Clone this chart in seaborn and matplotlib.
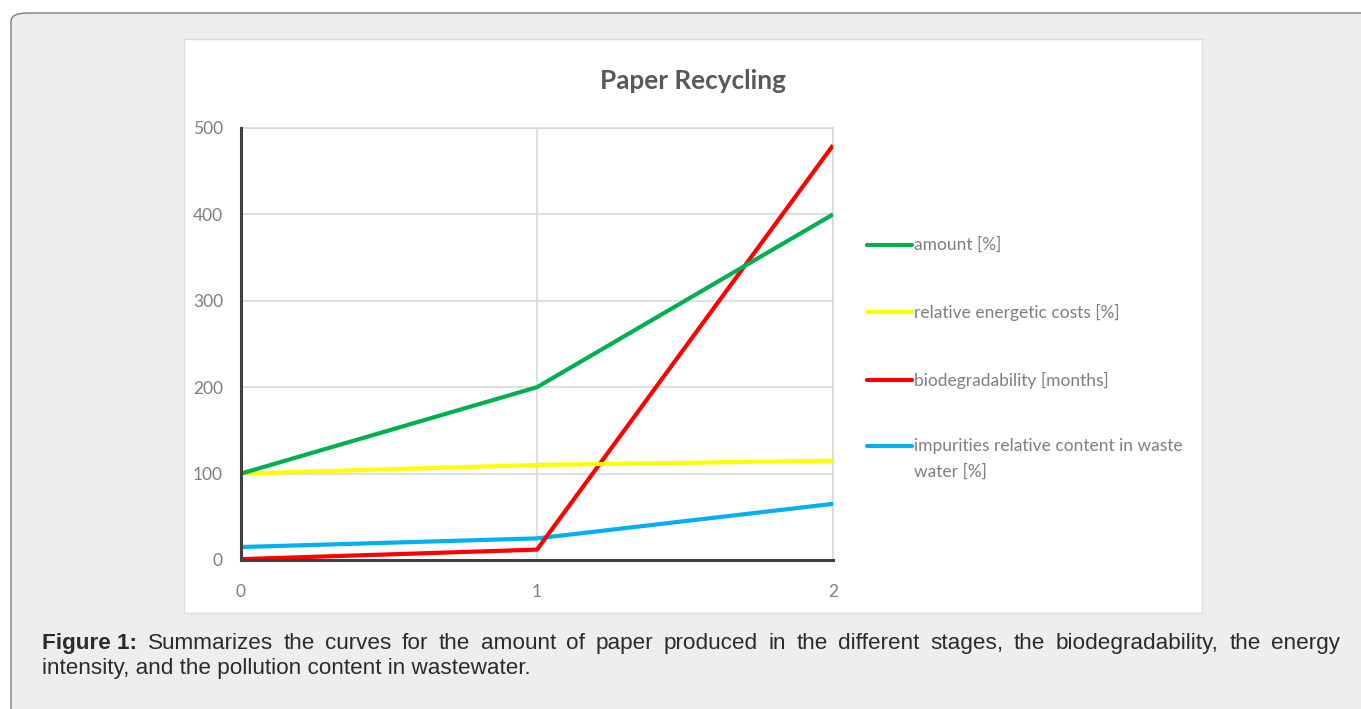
import matplotlib
matplotlib.use("Agg")
import matplotlib.pyplot as plt
from matplotlib.patches import FancyBboxPatch, Rectangle
from matplotlib.lines import Line2D
import seaborn as sns
import pandas as pd

# ---- data ----
stages = [0, 1, 2]
amount = [100, 200, 400]
energy_costs = [100, 110, 115]
biodegradability = [1, 12, 480]
impurities = [15, 25, 65]

series_names = [
    "amount [%]",
    "relative energetic costs [%]",
    "biodegradability [months]",
    "impurities relative content in waste\nwater [%]",
]
series_colors = ["#00b050", "#ffff00", "#ff0000", "#00b0f0"]
y_ticks = [0, 100, 200, 300, 400, 500]
x_ticks = [0, 1, 2]
title = "Paper Recycling"
caption_bold = "Figure 1:"
caption_line1 = ("Summarizes the curves for the amount of paper produced in the "
                 "different stages, the biodegradability, the energy")
caption_line2 = "intensity, and the pollution content in wastewater."

df = pd.DataFrame({
    "stage": stages * 4,
    "value": amount + energy_costs + biodegradability + impurities,
    "series": sum([[n] * len(stages) for n in series_names], []),
})

sns.set_theme(style="white")
plt.rcParams["font.family"] = ["Lato", "DejaVu Sans"]

W, H = 1361, 709
fig = plt.figure(figsize=(W / 100, H / 100), dpi=100)
fig.patch.set_facecolor("white")


def fx(px):
    return px / W


def fy(py):
    return 1 - py / H


# outer caption panel (rounded, light grey)
panel = FancyBboxPatch((fx(11), fy(760)), fx(1400) - fx(11), fy(13) - fy(760),
                       boxstyle="round,pad=0,rounding_size=0.012",
                       transform=fig.transFigure, facecolor="#eeeeee",
                       edgecolor="#7a7a7a", linewidth=1.0, zorder=0)
fig.patches.append(panel)

# white chart area
chart_bg = Rectangle((fx(184), fy(613)), fx(1202) - fx(184), fy(39) - fy(613),
                     transform=fig.transFigure, facecolor="white",
                     edgecolor="#dddddd", linewidth=1.0, zorder=1)
fig.patches.append(chart_bg)

# plotting axes
ax = fig.add_axes([fx(241), fy(560), fx(833) - fx(241), fy(128) - fy(560)])
ax.set_zorder(2)
ax.set_facecolor("white")

sns.lineplot(data=df, x="stage", y="value", hue="series",
             palette=dict(zip(series_names, series_colors)),
             hue_order=series_names, linewidth=3.0, ax=ax, legend=False,
             zorder=3)
# draw the lines in reverse order so the first series stays on top
for i, line in enumerate(ax.get_lines()):
    line.set_solid_capstyle("butt")
    line.set_zorder(3 + (len(series_names) - i) * 0.1)

ax.set_xlim(0, 2)
ax.set_ylim(0, 500)
ax.set_xticks(x_ticks)
ax.set_yticks(y_ticks)
ax.set_xticklabels([str(t) for t in x_ticks])
ax.set_yticklabels([str(t) for t in y_ticks])
ax.set_xlabel("")
ax.set_ylabel("")
ax.grid(True, color="#d9d9d9", linewidth=1.2)
ax.set_axisbelow(True)
for side in ("top", "right"):
    ax.spines[side].set_color("#d9d9d9")
    ax.spines[side].set_linewidth(1.2)
for side in ("left", "bottom"):
    ax.spines[side].set_color("#404040")
    ax.spines[side].set_linewidth(2.2)
    ax.spines[side].set_zorder(5)
ax.tick_params(axis="both", length=0, labelsize=12.5, labelcolor="#7f7f7f")
ax.tick_params(axis="y", pad=13)
ax.tick_params(axis="x", pad=17)

# title
fig.text(fx(693), fy(81), title, ha="center", va="center", fontsize=18.8,
         fontweight="bold", color="#595959", zorder=4)

# legend
legend_y = [245, 312, 380, 446]
for name, color, yy in zip(series_names, series_colors, legend_y):
    fig.lines.append(Line2D([fx(867), fx(912)], [fy(yy), fy(yy)],
                            transform=fig.transFigure, color=color,
                            linewidth=3.0, zorder=4))
    for k, part in enumerate(name.split("\n")):
        fig.text(fx(914), fy(yy + 26 * k), part, ha="left", va="center",
                 fontsize=12.5, color="#7f7f7f", zorder=4)

# justified caption, first line
cap_font = dict(family=["Liberation Sans", "DejaVu Sans"], fontsize=16.2,
                color="#2b2b2b", zorder=4)
renderer = fig.canvas.get_renderer()
words = [(caption_bold, "bold")] + [(w, "normal") for w in caption_line1.split()]
texts = []
total = 0.0
for w, weight in words:
    t = fig.text(0, fy(649), w, ha="left", va="baseline", fontweight=weight,
                 **cap_font)
    bb = t.get_window_extent(renderer=renderer)
    texts.append((t, bb.width))
    total += bb.width
left, right = 42, 1340
gap = (right - left - total) / (len(words) - 1)
x = left
for t, w in texts:
    t.set_x(fx(x))
    x += w + gap

fig.text(fx(42), fy(674), caption_line2, ha="left", va="baseline", **cap_font)

fig.savefig("out.png", dpi=100, facecolor=fig.get_facecolor())
